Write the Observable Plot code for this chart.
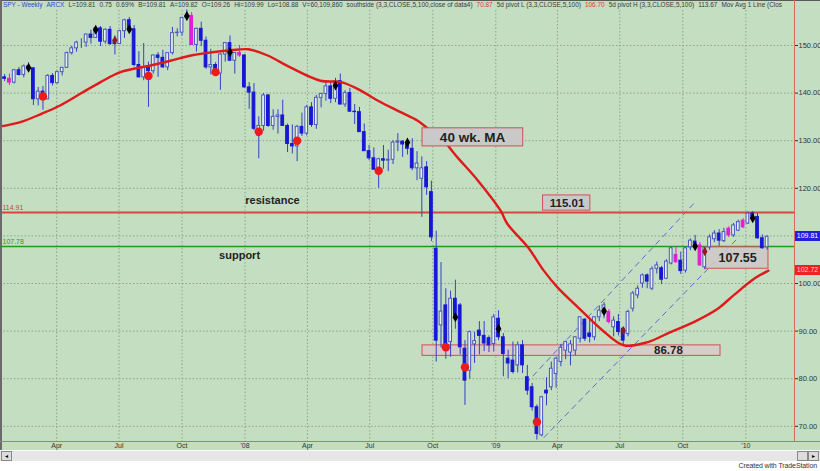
<!DOCTYPE html>
<html><head><meta charset="utf-8">
<script src="https://cdn.jsdelivr.net/npm/d3@7"></script>
<script src="https://cdn.jsdelivr.net/npm/@observablehq/plot@0.6"></script>
<style>
body{margin:0;background:#fff;font-family:"Liberation Sans",Arial,sans-serif;}
#wrap{position:relative;width:820px;height:471px;overflow:hidden;background:#fff;}
#header{position:absolute;left:3px;top:0px;width:788px;height:10px;font-size:6.45px;line-height:10px;white-space:nowrap;overflow:hidden;color:#3a3a3a;}
#header span{margin-right:4px;}
.abs{position:absolute;}
</style></head>
<body><div id="wrap"></div>
<script>
// ---------------- DATA ----------------
const firstWeek = "2007-01-15"; // Monday of first weekly bar
const open = [
143.3,143.0,142.2,144.8,143.8,145.6,145.2,138.7,140.3,138.7,
143.6,142.1,144.4,145.3,148.4,149.4,150.6,150.6,152.3,151.6,
153.6,150.8,153.3,151.0,150.3,153.0,155.3,153.4,145.9,143.3,
145.4,144.6,147.9,147.4,145.4,148.4,152.6,152.7,155.8,156.2,
150.1,153.5,151.0,145.4,145.9,144.1,148.1,150.5,146.8,148.4,
147.9,141.2,140.1,131.0,133.1,139.5,133.1,135.0,135.3,133.1,
129.3,128.8,132.9,131.5,137.0,133.3,139.0,139.8,141.4,138.8,
142.5,137.6,140.0,136.1,136.0,131.8,127.8,126.3,123.9,126.1,
125.8,126.0,129.6,129.8,129.2,128.3,124.2,122.0,124.4,119.2,
107.3,91.2,95.4,87.7,96.8,95.4,86.3,81.7,87.2,90.1,
89.0,88.5,87.3,92.6,88.7,84.2,83.8,82.8,87.0,80.3,
78.2,74.0,68.1,77.5,78.2,81.0,83.5,85.9,85.5,85.9,
88.4,92.4,89.5,88.7,92.9,93.7,94.0,90.8,91.9,90.5,
89.4,94.7,97.5,100.0,101.7,98.9,103.1,103.2,101.0,104.2,
106.0,104.8,102.7,107.6,108.8,108.0,103.4,107.6,109.3,110.5,
108.9,111.5,110.1,111.1,113.2,112.6,114.7,114.0,109.5,107.6];
const high = [
143.9,144.0,145.0,145.4,145.9,146.4,145.3,141.2,141.4,143.9,
144.1,144.6,145.4,148.6,149.8,150.9,151.4,152.4,153.2,153.8,
154.0,153.5,154.0,152.0,153.2,155.5,155.9,154.2,148.7,150.4,
146.5,148.0,148.5,149.0,148.5,153.8,153.5,155.8,157.5,156.9,
153.6,154.9,151.8,149.2,146.4,148.3,150.6,152.0,148.5,150.0,
148.1,142.2,142.0,135.0,139.9,139.7,136.5,136.5,138.5,133.5,
133.3,133.2,135.8,137.4,138.0,139.5,140.0,142.2,142.2,143.1,
144.0,140.5,141.0,137.6,137.0,133.5,129.0,128.5,126.3,129.0,
128.0,130.0,131.5,130.0,130.5,130.4,127.7,126.6,125.6,121.5,
111.0,104.4,98.9,98.4,100.7,95.8,88.0,90.0,89.8,92.0,
92.0,89.0,93.5,94.3,89.5,86.0,87.7,87.7,88.0,82.8,
79.0,74.5,76.3,80.2,83.5,84.5,87.2,87.9,88.0,88.8,
93.0,92.6,92.5,93.0,95.3,96.0,94.5,93.0,93.5,90.8,
94.4,98.3,99.5,102.0,102.0,103.5,104.5,103.6,105.0,107.6,
107.8,106.6,107.5,109.4,110.1,108.6,107.6,110.2,111.1,111.3,
111.6,111.9,112.6,113.3,113.6,115.0,115.1,114.7,110.2,110.0];
const low = [
142.4,141.6,141.9,143.6,143.2,144.9,137.4,137.3,136.4,138.6,
141.5,141.9,143.6,145.2,148.0,148.6,149.4,149.6,150.3,151.5,
149.8,150.3,150.0,148.0,150.2,151.5,152.8,145.5,143.2,142.6,
137.0,144.0,143.3,145.2,144.7,148.0,151.8,152.0,155.2,150.0,
148.6,149.8,145.0,143.8,143.7,140.6,146.5,146.7,144.0,147.5,
141.0,136.6,132.1,126.2,132.0,132.8,132.2,131.4,133.0,127.5,
127.2,125.6,130.9,131.0,132.8,132.4,136.9,138.3,137.8,138.0,
137.5,137.0,135.9,133.4,131.7,127.8,125.8,123.9,120.0,124.0,
123.5,125.0,127.7,126.5,127.0,123.7,121.6,113.9,118.5,108.8,
83.5,86.5,84.1,84.5,90.4,85.0,74.4,79.9,83.2,85.0,
85.7,85.5,85.6,88.0,80.4,80.0,81.0,81.2,81.1,76.5,
73.2,67.1,67.8,74.3,77.5,78.0,82.5,84.0,82.7,84.8,
87.5,87.8,87.5,88.0,92.0,92.6,91.5,88.8,89.0,87.0,
88.8,94.0,96.8,99.0,98.9,98.5,102.0,99.8,100.8,103.9,
104.2,101.9,102.2,106.9,106.9,103.6,102.9,107.0,108.6,107.8,
108.6,109.7,109.7,110.9,111.5,112.4,113.0,109.3,107.2,107.0];
const close = [
143.0,142.2,144.8,143.8,145.6,145.1,138.7,140.3,138.7,143.6,
142.1,144.4,145.3,148.4,149.4,150.6,150.6,152.3,151.6,153.6,
150.8,153.3,150.3,150.3,153.0,155.3,153.4,145.9,143.3,145.4,
144.6,147.9,147.4,145.4,148.4,152.6,152.7,155.8,156.2,150.1,
153.5,151.0,145.4,145.9,144.1,148.1,150.5,146.8,148.4,147.9,
141.2,140.1,132.5,133.1,139.5,133.1,135.0,135.3,133.1,129.3,
128.8,132.9,131.5,137.0,133.3,139.0,139.8,141.4,138.8,142.5,
137.6,140.0,136.1,136.0,131.8,127.8,126.3,123.9,126.1,125.8,
126.0,129.6,129.8,129.2,128.3,124.2,125.2,124.2,120.2,109.7,
88.0,94.1,86.3,96.8,93.1,86.6,79.6,89.8,87.9,89.0,
87.4,87.0,92.9,88.7,85.2,83.2,81.4,87.0,82.8,77.5,
74.0,68.4,76.1,76.9,82.1,84.2,86.5,87.7,87.2,88.7,
92.9,88.4,88.8,92.9,94.3,95.4,91.9,92.2,89.8,88.0,
94.0,97.9,98.9,101.7,100.4,103.0,103.8,100.8,104.6,107.4,
104.5,102.6,107.4,109.0,107.9,103.8,107.4,109.7,110.5,109.0,
110.8,110.1,112.2,112.9,111.8,114.7,113.7,109.5,107.4,109.81];
const pinkWeeks = ["2007-01-22","2007-10-15","2007-12-24","2009-06-15","2009-09-21","2009-10-26","2009-12-07","2009-12-28"];

// 40-week moving average
const maDates = ["2007-01-09","2007-02-07","2007-03-09","2007-04-06","2007-05-06","2007-06-04","2007-07-03","2007-08-16","2007-09-14","2007-10-14","2007-11-04","2007-12-11","2008-01-06","2008-02-03","2008-03-07","2008-04-20","2008-05-20","2008-06-13","2008-07-13","2008-08-15","2008-09-09","2008-09-28","2008-10-08","2008-11-06","2008-12-06","2009-01-08","2009-01-18","2009-02-17","2009-03-12","2009-04-01","2009-05-01","2009-06-03","2009-07-07","2009-08-11","2009-09-13","2009-10-17","2009-11-21","2009-12-14","2010-01-13","2010-02-03"];
const maValues = [133.0,133.9,135.6,137.4,139.9,142.3,144.4,145.8,146.8,147.9,148.4,149.0,149.2,147.9,145.4,142.6,142.3,140.9,138.4,136.0,134.2,132.1,131.4,126.5,121.6,115.3,112.5,107.6,102.7,99.2,95.0,90.5,87.0,87.7,89.8,91.9,94.7,97.5,101.0,102.7];

// pivot markers
const pivotHighDates = ["2007-02-19","2007-05-28","2007-07-16","2007-10-08","2007-12-10","2008-05-12","2008-08-25","2008-11-03","2009-01-05","2009-06-08","2009-10-19","2010-01-11"];
const pivotHighValues = [145.3,153.3,153.4,156.2,148.6,141.6,129.6,92.9,90.5,94.2,107.8,113.7];
const pivotLowDates = ["2007-03-12","2007-08-13","2007-11-19","2008-01-21","2008-03-17","2008-07-14","2008-10-20","2008-11-17","2009-03-02"];
const pivotLowValues = [139.3,143.6,144.4,131.9,130.0,123.7,86.6,82.4,70.9];
const minorDates = ["2007-06-25","2009-07-06","2009-11-02"];
const minorValues = [151.1,90.1,106.7];

// levels
const resistance = 114.91;
const support = 107.78;
const lastPrice = 109.81;
const maLast = 102.72;

// channel trend lines
const chanStartDates = ["2009-02-14","2009-03-12"];
const chanStartValues = [79.0,67.6];
const chanEndDates = ["2009-10-17","2009-12-20"];
const chanEndValues = [116.8,109.5];

// annotation boxes
const noteTexts = ["40 wk. MA","115.01","107.55","86.78"];
const noteX1 = ["2008-09-16","2009-03-11","2009-11-03","2008-09-16"];
const noteX2 = ["2009-02-10","2009-05-19","2010-02-03","2009-11-25"];
const noteY1 = [128.8,115.3,103.1,84.8];
const noteY2 = [132.6,118.5,107.6,87.0];
const noteTextDates = ["2008-11-28","2009-04-15","2009-12-20","2009-09-10"];
const noteTextValues = [130.7,116.9,105.4,85.9];

const levelWords = ["resistance","support"];
const levelWordDates = ["2008-02-10","2007-12-24"];
const levelWordValues = [117.4,105.9];

// axes
const gridTicks = [70,80,90,100,110,120,130,140,150];
const yTickLabels = [70,80,90,100,120,130,140,150]; // 110 hidden under last-price tag
const quarterDates = ["2007-04-01","2007-07-01","2007-10-01","2008-01-01","2008-04-01","2008-07-01","2008-10-01","2009-01-01","2009-04-01","2009-07-01","2009-10-01","2010-01-01"];
const quarterLabels = ["Apr","Jul","Oct","'08","Apr","Jul","Oct","'09","Apr","Jul","Oct","'10"];

// ---------------- BUILD ----------------
const DAY = 864e5;
const D = s => new Date(s + "T00:00:00Z");
const t0 = +D(firstWeek);
const bars = close.map((c,i) => {
  const date = new Date(t0 + i*7*DAY);
  const key = date.toISOString().slice(0,10);
  return {date, o: open[i], h: high[i], l: low[i], c, pink: pinkWeeks.includes(key)};
});
const pinkBars = bars.filter(d => d.pink);
const upBars = bars.filter(d => !d.pink && d.c >= d.o);
const downBars = bars.filter(d => !d.pink && d.c < d.o);
const ma = maDates.map((d,i) => ({date: D(d), v: maValues[i]}));
const pH = pivotHighDates.map((d,i)=>({date:D(d), v:pivotHighValues[i]}));
const pL = pivotLowDates.map((d,i)=>({date:D(d), v:pivotLowValues[i]}));
const pM = minorDates.map((d,i)=>({date:D(d), v:minorValues[i]}));
const chans = chanStartDates.map((d,i)=>({x1:D(d), y1:chanStartValues[i], x2:D(chanEndDates[i]), y2:chanEndValues[i]}));
const notes = noteTexts.map((t,i)=>({t, x1:D(noteX1[i]), x2:D(noteX2[i]), y1:noteY1[i], y2:noteY2[i], tx:D(noteTextDates[i]), ty:noteTextValues[i]}));
const words = levelWords.map((t,i)=>({t, date:D(levelWordDates[i]), v:levelWordValues[i]}));
const quarters = quarterDates.map((d,i)=>({date:D(d), label:quarterLabels[i]}));

const BG = "#c4dec2";
const GRID = "#8ca58c";
const WICK = "#3342c4";
const FILLED = "#1717d6";
const HOLLOW = "#4a58bf";
const HOLLOW_FILL = "#eaf1ec";
const PINK = "#e01ed2";
const bx1 = d => new Date(+d.date - 2*DAY);
const bx2 = d => new Date(+d.date + 2*DAY);

const chart = Plot.plot({
  width: 820, height: 450,
  marginTop: 10, marginBottom: 9, marginLeft: 0, marginRight: 26,
  style: {background: BG, fontFamily: "Liberation Sans, Arial, sans-serif", color: "#333", overflow: "visible"},
  x: {type: "utc", domain: [D("2007-01-09"), D("2010-03-13")], axis: null},
  y: {domain: [66.81, 157.35], axis: null},
  marks: [
    Plot.gridY(gridTicks, {stroke: GRID, strokeOpacity: 1, strokeDasharray: "1.5,2"}),
    Plot.gridX(quarters, {x: "date", stroke: GRID, strokeOpacity: 1, strokeDasharray: "1.5,2"}),
    Plot.axisY(yTickLabels, {anchor: "right", tickSize: 3, tickPadding: 1, tickFormat: d => d.toFixed(2), fontSize: 7.5, label: null}),
    Plot.text(quarters, {x: "date", text: "label", frameAnchor: "bottom", dy: 6.5, fontSize: 7, fill: "#333"}),
    // 86.78 band (semi transparent, behind candles)
    Plot.rect([notes[3]], {x1:"x1", x2:"x2", y1:"y1", y2:"y2", fill: "#d8c9c9", fillOpacity: 0.8, stroke: "#d05050", strokeWidth: 1}),
    // resistance / support
    Plot.ruleY([resistance], {stroke: "#d6463a", strokeWidth: 2}),
    Plot.ruleY([support], {stroke: "#1f9a24", strokeWidth: 1.5}),
    Plot.text([resistance], {y: d=>d, text: d=>d.toFixed(2), frameAnchor: "left", textAnchor: "start", dx: 2, dy: -5, fill: "#d04040", fontSize: 7}),
    Plot.text([support], {y: d=>d, text: d=>d.toFixed(2), frameAnchor: "left", textAnchor: "start", dx: 2, dy: -5, fill: "#2a9a2a", fontSize: 7}),
    // channel
    Plot.link(chans, {x1:"x1", y1:"y1", x2:"x2", y2:"y2", stroke: "#5a6cd0", strokeWidth: 1, strokeDasharray: "6,4"}),
    // 107.55 box
    Plot.rect([notes[2]], {x1:"x1", x2:"x2", y1:"y1", y2:"y2", fill: "#cfc8c8", fillOpacity: 0.85, stroke: "#d05050", strokeWidth: 1}),
    // wicks
    Plot.ruleX(upBars.concat(downBars), {x: "date", y1: "l", y2: "h", stroke: WICK, strokeWidth: 1}),
    Plot.ruleX(pinkBars, {x: "date", y1: "l", y2: "h", stroke: PINK, strokeWidth: 1}),
    // bodies
    Plot.rect(upBars, {x1: bx1, x2: bx2, y1: "o", y2: "c", fill: HOLLOW_FILL, stroke: HOLLOW, strokeWidth: 1}),
    Plot.rect(downBars, {x1: bx1, x2: bx2, y1: "o", y2: "c", fill: FILLED, stroke: FILLED, strokeWidth: 1}),
    Plot.rect(pinkBars, {x1: bx1, x2: bx2, y1: "o", y2: "c", fill: PINK, stroke: PINK, strokeWidth: 1}),
    // moving average
    Plot.line(ma, {x: "date", y: "v", stroke: "#e01a1a", strokeWidth: 2.4, curve: "catmull-rom"}),
    // pivots
    Plot.dot(pL, {x: "date", y: "v", r: 4.2, fill: "#f01a1a"}),
    Plot.dot(pH, {x: "date", y: "v", symbol: "diamond", r: 3, fill: "#000"}),
    Plot.dot(pM, {x: "date", y: "v", symbol: "diamond", r: 2.8, fill: "#8a1c1c"}),
    // opaque note boxes
    Plot.rect([notes[0], notes[1]], {x1:"x1", x2:"x2", y1:"y1", y2:"y2", fill: "#c9c9c9", stroke: "#d05050", strokeWidth: 1}),
    Plot.text([notes[0]], {x:"tx", y:"ty", text:"t", fontSize: 13.5, fontWeight: "bold", fill: "#222"}),
    Plot.text([notes[1]], {x:"tx", y:"ty", text:"t", fontSize: 11.5, fontWeight: "bold", fill: "#222"}),
    Plot.text([notes[2]], {x:"tx", y:"ty", text:"t", fontSize: 12.5, fontWeight: "bold", fill: "#222"}),
    Plot.text([notes[3]], {x:"tx", y:"ty", text:"t", fontSize: 11.5, fontWeight: "bold", fill: "#222"}),
    Plot.text(words, {x:"date", y:"v", text:"t", fontSize: 11, fontWeight: "bold", fill: "#222"})
  ]
});

const wrap = document.getElementById("wrap");
chart.style.position = "absolute";
chart.style.left = "0px";
chart.style.top = "0px";
wrap.appendChild(chart);

const xs = chart.scale("x"), ys = chart.scale("y");
const xRight = xs.apply(D("2010-03-13"));
const yBottom = ys.apply(66.81);

function box(css, text){
  const d = document.createElement("div");
  d.className = "abs";
  Object.assign(d.style, css);
  if (text != null) d.textContent = text;
  wrap.appendChild(d);
  return d;
}
// borders
box({left:"0px", top:"0px", width:"820px", height:"1px", background:"#5a5a5a"});
box({left:"0px", top:"0px", width:"2px", height:"450px", background:"#6a6a6a"});
box({left: (xRight-0.5)+"px", top:"0px", width:"1.5px", height: yBottom+"px", background:"#d86a5a"});
box({left:"0px", top:(yBottom-0.5)+"px", width:"820px", height:"1.5px", background:"#d86a5a"});
// right price tags
box({left:(xRight+1)+"px", top:(ys.apply(lastPrice)-5)+"px", width:"25px", height:"10px", background:"#2020e0", color:"#fff", fontSize:"7px", lineHeight:"10px", textAlign:"center"}, lastPrice.toFixed(2));
box({left:(xRight+1)+"px", top:(ys.apply(maLast)-5)+"px", width:"25px", height:"10px", background:"#ee2020", color:"#ffd0d0", fontSize:"7px", lineHeight:"10px", textAlign:"center"}, maLast.toFixed(2));

// header
const hdr = document.createElement("div");
hdr.id = "header";
const parts = [
  ["SPY - Weekly","#2e46c8"],["ARCX","#2e46c8"],["L=109.81"],["0.75"],["0.69%"],["B=109.81"],["A=109.82"],["O=109.26"],["Hi=109.99"],["Lo=108.88"],["V=60,109,860"],
  ["southside (3,3,CLOSE,5,100,close of data4)"],["70.87","#d83a3a"],["5d pivot L (3,3,CLOSE,5,100)"],["106.70","#d83a3a"],["5d pivot H (3,3,CLOSE,5,100)"],["113.67"],["Mov Avg 1 Line (Clos"]
];
parts.forEach(([t,c]) => { const s = document.createElement("span"); s.textContent = t; if (c) s.style.color = c; hdr.appendChild(s); });
wrap.appendChild(hdr);

// scrollbar & footer
box({left:"0px", top:"450px", width:"820px", height:"10px", background:"#e6e6e6", borderTop:"1px solid #fafafa"});
box({left:"1px", top:"451px", width:"9px", height:"8px", background:"#dcdcdc", border:"1px solid #888", fontSize:"6px", lineHeight:"8px", textAlign:"center", color:"#000"}, "◂");
box({left:"797px", top:"451px", width:"9px", height:"8px", background:"#dcdcdc", border:"1px solid #888"});
box({left:"808px", top:"451px", width:"9px", height:"8px", background:"#dcdcdc", border:"1px solid #888", fontSize:"6px", lineHeight:"8px", textAlign:"center", color:"#000"}, "▸");
box({right:"3px", top:"462px", fontSize:"7px", color:"#333", whiteSpace:"nowrap", letterSpacing:"-0.1px"}, "Created with TradeStation");
</script>
</body></html>
